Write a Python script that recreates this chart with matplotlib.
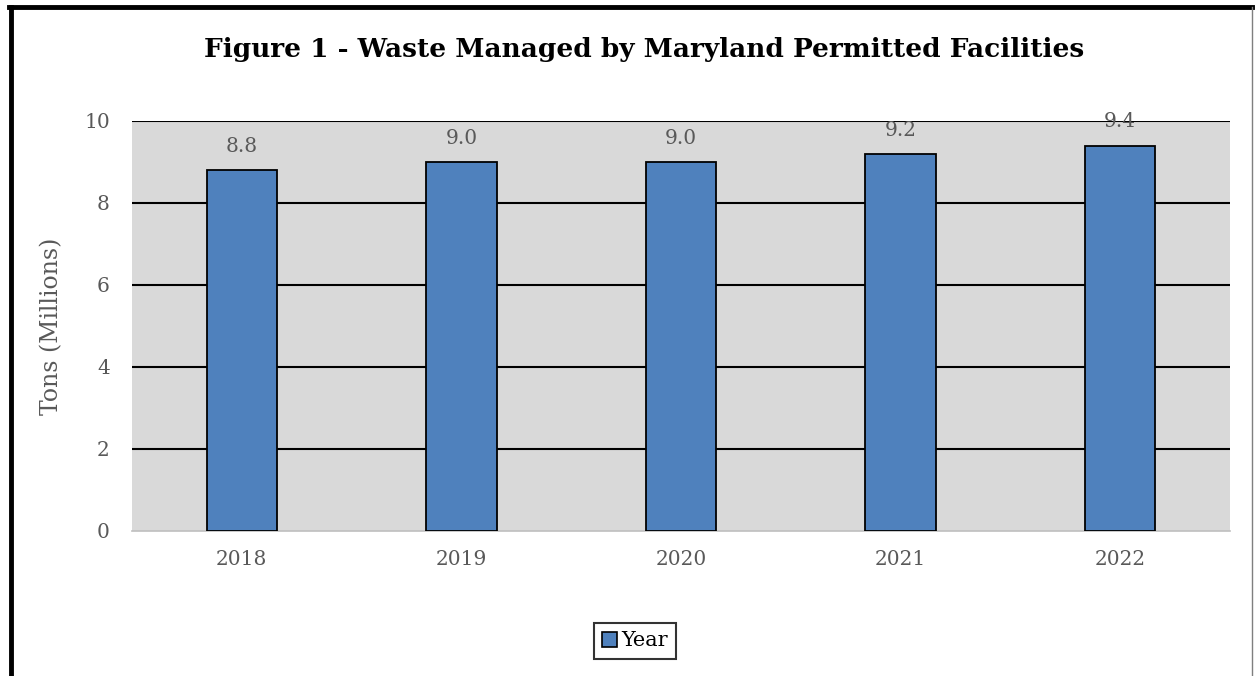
import matplotlib
matplotlib.use("Agg")
import matplotlib.pyplot as plt
from matplotlib.patches import Patch
from matplotlib.lines import Line2D

years = ["2018", "2019", "2020", "2021", "2022"]
tons = [8.8, 9.0, 9.0, 9.2, 9.4]
labels = ["8.8", "9.0", "9.0", "9.2", "9.4"]
yticks = [0, 2, 4, 6, 8, 10]

plt.rcParams['font.family'] = ['DejaVu Serif']
fig = plt.figure(figsize=(12.57, 6.76), dpi=100)
ax = fig.add_axes([132/1257, 1-531/676, 1098/1257, 410/676])
ax.set_facecolor('#D9D9D9')

x = list(range(len(years)))
ax.bar(x, tons, width=0.32, color='#4F81BD', edgecolor='black', linewidth=1.3, zorder=3)
for xi, v, lab in zip(x, tons, labels):
    ax.annotate(lab, (xi, v), xytext=(0, 17), textcoords='offset points',
                ha='center', va='center', fontsize=14.5, color='#595959', zorder=4)

ax.set_xlim(-0.5, 4.5)
ax.set_ylim(0, 10)
ax.set_yticks(yticks)
ax.set_xticks(x)
ax.set_xticklabels(years)
ax.tick_params(axis='both', length=0, labelsize=14.5, labelcolor='#595959')
ax.tick_params(axis='y', pad=16)
ax.tick_params(axis='x', pad=14)
for yv in yticks[1:]:
    ax.axhline(yv, color='black', linewidth=1.5, zorder=2)
for s in ['left', 'right', 'top']:
    ax.spines[s].set_visible(False)
ax.spines['bottom'].set_color('#BFBFBF')
ax.spines['bottom'].set_linewidth(1.2)
ax.set_ylabel('Tons (Millions)', fontsize=17, color='#595959')
ax.yaxis.set_label_coords(-(132-63)/1098, 0.5)

fig.text(644/1257, 1-50/676, 'Figure 1 - Waste Managed by Maryland Permitted Facilities',
         ha='center', va='center', fontsize=19, fontweight='bold', color='black')

leg = fig.legend(handles=[Patch(facecolor='#4F81BD', edgecolor='black', linewidth=1.2, label='Year')],
                 loc='center', bbox_to_anchor=(635/1257, 1-641/676), fontsize=15,
                 frameon=True, fancybox=False, edgecolor='black', handlelength=0.7,
                 handleheight=0.7, handletextpad=0.2, borderpad=0.4)
leg.get_frame().set_linewidth(1.5)
for t in leg.get_texts():
    t.set_color('black')

# outer frame
fig.add_artist(Line2D([10.5/1257, 10.5/1257], [0, 1-7/676], color='black', linewidth=3.5, transform=fig.transFigure))
fig.add_artist(Line2D([9/1257, 1252/1257], [1-7/676, 1-7/676], color='black', linewidth=3.5, transform=fig.transFigure))
fig.add_artist(Line2D([1252/1257, 1252/1257], [0, 1-7/676], color='#7F7F7F', linewidth=1.0, transform=fig.transFigure))

fig.savefig('out.png', dpi=100)
